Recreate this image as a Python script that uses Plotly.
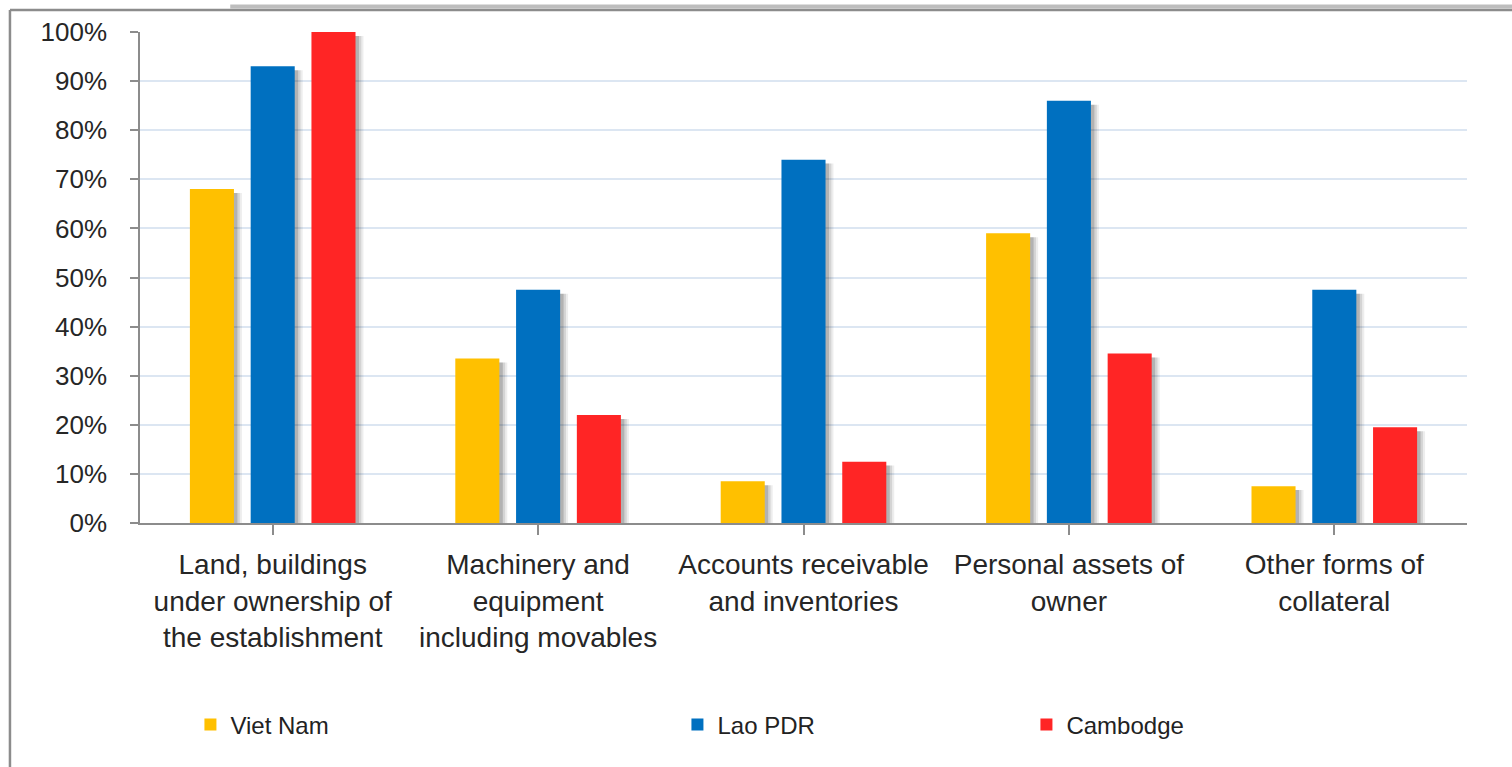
import plotly.graph_objects as go

# Share of establishments reporting each type of collateral, by country (%)
categories = [
    "Land, buildings<br>under ownership of<br>the establishment",
    "Machinery and<br>equipment<br>including movables",
    "Accounts receivable<br>and inventories",
    "Personal assets of<br>owner",
    "Other forms of<br>collateral",
]
viet_nam = [68, 33.5, 8.5, 59, 7.5]
lao_pdr = [93, 47.5, 74, 86, 47.5]
cambodge = [100, 22, 12.5, 34.5, 19.5]

series = [
    ("Viet Nam", viet_nam, "#FFC000", -0.229, "legend"),
    ("Lao PDR", lao_pdr, "#0070C0", 0.0, "legend2"),
    ("Cambodge", cambodge, "#FF2525", 0.229, "legend3"),
]

BAR_W = 0.166
x_pos = list(range(len(categories)))

fig = go.Figure()

# soft drop shadows behind every bar
for name, vals, color, center, _ in series:
    for shift, alpha in ((0.030, 0.07), (0.022, 0.10), (0.013, 0.16)):
        fig.add_trace(go.Bar(
            x=x_pos, y=[v - 0.8 for v in vals],
            width=BAR_W, offset=center - BAR_W / 2 + shift,
            marker=dict(color=f"rgba(0,0,0,{alpha})", line=dict(width=0)),
            showlegend=False, hoverinfo="skip",
        ))

for name, vals, color, center, leg in series:
    fig.add_trace(go.Bar(
        x=x_pos, y=vals, name=name,
        width=BAR_W, offset=center - BAR_W / 2,
        marker=dict(color=color, line=dict(width=0)),
        legend=leg,
    ))

legend_common = dict(
    orientation="h", yanchor="middle", y=-0.411, xanchor="left",
    font=dict(family="Liberation Sans, Arial", size=24, color="#222222"),
    bgcolor="rgba(0,0,0,0)", itemwidth=30,
)

fig.update_layout(
    width=1512, height=767,
    margin=dict(l=140, r=45, t=32, b=244),
    paper_bgcolor="white", plot_bgcolor="white",
    barmode="overlay",
    font=dict(family="Liberation Sans, Arial", color="#262626"),
    legend=dict(x=0.038, **legend_common),
    legend2=dict(x=0.405, **legend_common),
    legend3=dict(x=0.668, **legend_common),
    xaxis=dict(
        tickmode="array", tickvals=x_pos, ticktext=categories,
        range=[-0.5, len(categories) - 0.5],
        showline=True, linecolor="#8c8c8c", linewidth=1.5,
        ticks="outside", ticklen=10, tickcolor="#8c8c8c", tickwidth=1.5,
        showgrid=False, zeroline=False,
        tickfont=dict(size=28, color="#262626"),
        ticklabelstandoff=6,
    ),
    yaxis=dict(
        range=[0, 100], dtick=10, ticksuffix="%",
        showline=True, linecolor="#8c8c8c", linewidth=1.5,
        ticks="outside", ticklen=8, tickcolor="#8c8c8c", tickwidth=1.5,
        gridcolor="#dce6f2", gridwidth=1.5, zeroline=False,
        tickfont=dict(size=26, color="#262626"),
        ticklabelstandoff=18,
    ),
)

# x-axis ticks sit on the category boundaries
fig.update_xaxes(tickson="boundaries")

# frame around the chart area, and the band above it
fig.add_shape(type="line", xref="paper", yref="paper",
              x0=0.068, x1=1.04, y0=1.052, y1=1.052,
              line=dict(color="#bdbdbd", width=4), layer="above")
fig.add_shape(type="line", xref="paper", yref="paper",
              x0=-0.098, x1=1.04, y0=1.0448, y1=1.0448,
              line=dict(color="#8c8c8c", width=2.5), layer="above")
fig.add_shape(type="line", xref="paper", yref="paper",
              x0=-0.098, x1=-0.098, y0=1.0448, y1=-0.55,
              line=dict(color="#8c8c8c", width=2.5), layer="above")

fig.write_html("out.html")
